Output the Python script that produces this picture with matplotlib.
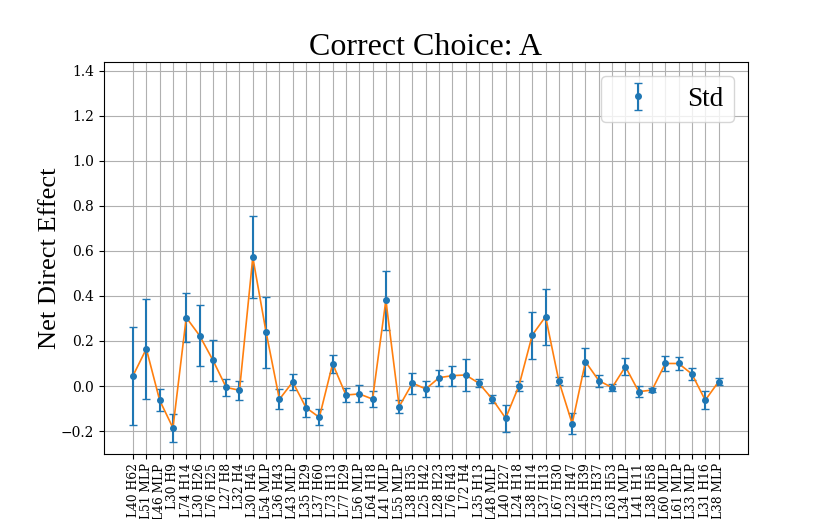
import numpy as np
import matplotlib
matplotlib.use("Agg")
import matplotlib.pyplot as plt

# components on the x axis
labels = ["L40 H62", "L51 MLP", "L46 MLP", "L30 H9", "L74 H14", "L30 H26", "L76 H25",
          "L27 H8", "L32 H4", "L30 H45", "L54 MLP", "L36 H43", "L43 MLP", "L35 H29",
          "L37 H60", "L73 H13", "L77 H29", "L56 MLP", "L64 H18", "L41 MLP", "L55 MLP",
          "L38 H35", "L25 H42", "L28 H23", "L76 H43", "L72 H4", "L35 H13", "L48 MLP",
          "L40 H27", "L24 H18", "L38 H14", "L37 H13", "L67 H30", "L23 H47", "L45 H39",
          "L73 H37", "L63 H53", "L34 MLP", "L41 H11", "L38 H58", "L60 MLP", "L61 MLP",
          "L33 MLP", "L31 H16", "L38 MLP"]

# mean net direct effect
effect = [0.046, 0.165, -0.063, -0.186, 0.304, 0.224, 0.115, -0.006, -0.019, 0.571,
          0.239, -0.059, 0.018, -0.096, -0.139, 0.099, -0.040, -0.035, -0.058, 0.381,
          -0.091, 0.013, -0.013, 0.037, 0.046, 0.049, 0.012, -0.058, -0.143, 0.001,
          0.226, 0.308, 0.022, -0.167, 0.108, 0.024, -0.007, 0.086, -0.025, -0.018,
          0.100, 0.100, 0.053, -0.063, 0.019]

# std
std = [0.218, 0.223, 0.050, 0.064, 0.110, 0.134, 0.091, 0.039, 0.041, 0.182,
       0.157, 0.044, 0.036, 0.043, 0.035, 0.040, 0.030, 0.038, 0.037, 0.131,
       0.030, 0.047, 0.034, 0.035, 0.045, 0.070, 0.017, 0.018, 0.059, 0.022,
       0.104, 0.124, 0.018, 0.046, 0.062, 0.027, 0.015, 0.038, 0.024, 0.010,
       0.032, 0.027, 0.025, 0.041, 0.015]

x = np.arange(len(labels))

fig = plt.figure(figsize=(8.3, 5.19), dpi=100)
ax = fig.add_axes([0.125, 0.126, 0.776, 0.754])

ax.errorbar(x, effect, yerr=std, fmt='o', color='tab:blue', markersize=4,
            capsize=3, label='Std')
ax.plot(x, effect, color='tab:orange', linewidth=1.2, zorder=2.05)

ax.set_xticks(x)
ax.set_xticklabels(labels, rotation=90, fontsize=8.8, family='DejaVu Serif')
ax.set_ylim(-0.3, 1.437)
ax.set_yticks(np.arange(-0.2, 1.41, 0.2))
for t in ax.get_yticklabels():
    t.set_family('DejaVu Serif')
    t.set_fontsize(10)

ax.grid(True)
ax.set_title("Correct Choice: A", fontsize=23, family='Liberation Serif', pad=5)
ax.set_ylabel("Net Direct Effect", fontsize=19, family='Liberation Serif')
ax.yaxis.set_label_coords(-0.066, 0.5)
ax.legend(loc='upper right', prop={'family': 'Liberation Serif', 'size': 19.5})

fig.savefig("out.png", dpi=100)
